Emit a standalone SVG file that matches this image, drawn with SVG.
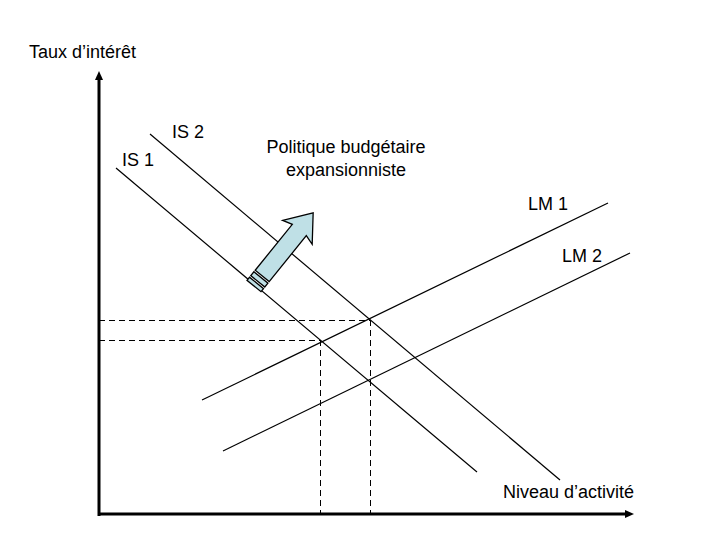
<svg xmlns="http://www.w3.org/2000/svg" width="720" height="540" viewBox="0 0 720 540">
<style>
text{font-family:"Liberation Sans",Arial,sans-serif;font-size:18px;fill:#000}
.ln{stroke:#000;stroke-width:1.2;fill:none}
.ds{stroke:#000;stroke-width:1;fill:none;stroke-dasharray:6 4}
.ax{stroke:#000;stroke-width:3;fill:none}
.ar{fill:#bfe0e6;stroke:#000;stroke-width:1.3;stroke-linejoin:miter}
</style>
<rect width="720" height="540" fill="#fff"/>
<g id="axes">
<line class="ax" x1="99" y1="516" x2="99" y2="78"/>
<polygon points="99,71 95,80 103,80" fill="#000"/>
<line class="ax" x1="98" y1="514" x2="626" y2="514"/>
<polygon points="634,514 625,510 625,518" fill="#000"/>
</g>
<g id="connectors">
<line class="ds" x1="99" y1="320.5" x2="370" y2="320.5"/>
<line class="ds" x1="99" y1="340.5" x2="321" y2="340.5"/>
<line class="ds" x1="320.5" y1="340" x2="320.5" y2="513"/>
<line class="ds" x1="370.5" y1="320" x2="370.5" y2="513"/>
</g>
<g id="IS1"><line class="ln" x1="116" y1="168" x2="477" y2="472"/><text x="122" y="166">IS 1</text></g>
<g id="IS2"><line class="ln" x1="150" y1="134" x2="560" y2="480"/><text x="172" y="138">IS 2</text></g>
<g id="LM1"><line class="ln" x1="202" y1="400" x2="608" y2="203"/><text x="528" y="210">LM 1</text></g>
<g id="LM2"><line class="ln" x1="223" y1="451" x2="630" y2="253"/><text x="562" y="262">LM 2</text></g>
<g id="label"><text x="346" y="153" text-anchor="middle">Politique budgétaire</text><text x="346" y="176" text-anchor="middle">expansionniste</text></g>
<g id="ylabel"><text x="29" y="58">Taux d’intérêt</text></g>
<g id="xlabel"><text x="503" y="498">Niveau d’activité</text></g>
<g id="shift-arrow" transform="translate(254,286) rotate(-51)">
<rect class="ar" x="0" y="-9" width="4" height="18"/>
<rect class="ar" x="6" y="-9" width="5" height="18"/>
<polygon class="ar" points="13,-9 72,-9 69,-19 94,0 69,19 72,9 13,9"/>
</g>
</svg>
